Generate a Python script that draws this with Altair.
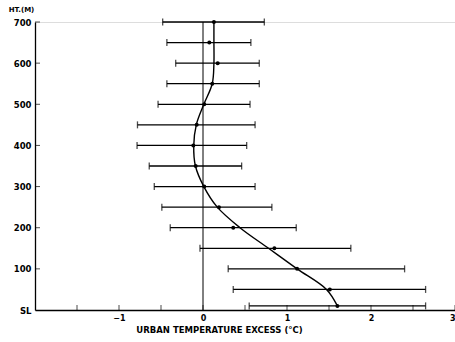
import altair as alt
import pandas as pd

# Heights (m) of each observation level (SL ~ 10 m)
heights = [700, 650, 600, 550, 500, 450, 400, 350, 300, 250, 200, 150, 100, 50, 10]
# Mean urban temperature excess (deg C)
means = [0.13, 0.075, 0.175, 0.11, 0.015, -0.075, -0.115, -0.087, 0.015, 0.19, 0.36, 0.85, 1.12, 1.51, 1.60]
# Error bar ends
lows = [-0.48, -0.43, -0.325, -0.43, -0.535, -0.78, -0.785, -0.64, -0.58, -0.49, -0.39, -0.036, 0.30, 0.36, 0.55]
highs = [0.73, 0.57, 0.67, 0.67, 0.56, 0.62, 0.52, 0.46, 0.62, 0.82, 1.11, 1.76, 2.40, 2.65, 2.65]
# Smooth fitted profile
curve = [0.13, 0.13, 0.13, 0.11, 0.01, -0.08, -0.11, -0.09, 0.01, 0.17, 0.44, 0.78, 1.12, 1.47, 1.60]

x_ticks = [-1.5, -1, -0.5, 0, 0.5, 1, 1.5, 2, 2.5, 3]
x_labels = [-1, 0, 1, 2, 3]
y_ticks = [100, 200, 300, 400, 500, 600, 700]

df = pd.DataFrame(dict(h=heights, m=means, lo=lows, hi=highs, c=curve))
xt = pd.DataFrame(dict(x=x_ticks))
yt = pd.DataFrame(dict(y=y_ticks))
zero = pd.DataFrame(dict(x=[0], y=[0], y2=[700]))

FONT = "DejaVu Sans"
xs = alt.Scale(domain=[-2, 3], nice=False, zero=False)
ys = alt.Scale(domain=[0, 700], nice=False, zero=False)

xaxis = alt.Axis(
    values=x_labels, format="d", tickSize=0, grid=False, labelFont=FONT, labelFontWeight="bold",
    labelFontSize=8, labelPadding=4, labelColor="black",
    title="URBAN TEMPERATURE EXCESS (°C)", titleFont=FONT, titleFontWeight="bold",
    titleFontSize=8.5, titleColor="black", titleX=184, titleY=19, titleAlign="center",
    titleBaseline="middle", domainColor="black", domainWidth=1.3,
)
yaxis = alt.Axis(
    values=[0] + y_ticks, tickSize=0, grid=False, labelFont=FONT, labelFontWeight="bold",
    labelFontSize=8.5, labelPadding=4, labelColor="black",
    labelExpr="datum.value == 0 ? 'SL' : datum.label",
    title="HT.(M)", titleAngle=0, titleFont=FONT, titleFontWeight="bold", titleFontSize=7,
    titleColor="black", titleX=-14, titleY=-13, titleAlign="center", titleBaseline="middle",
    domainColor="black", domainWidth=1.3,
)

zero_rule = alt.Chart(zero).mark_rule(color="black", strokeWidth=1).encode(
    x=alt.X("x:Q", scale=xs, axis=xaxis),
    y=alt.Y("y:Q", scale=ys, axis=yaxis),
    y2="y2:Q",
)

bars = alt.Chart(df).mark_rule(color="black", strokeWidth=1.3).encode(
    x=alt.X("lo:Q", scale=xs), x2="hi:Q", y=alt.Y("h:Q", scale=ys)
)
cap_lo = alt.Chart(df).mark_tick(color="black", orient="vertical", size=7, thickness=1.3).encode(
    x=alt.X("lo:Q", scale=xs), y=alt.Y("h:Q", scale=ys)
)
cap_hi = alt.Chart(df).mark_tick(color="black", orient="vertical", size=7, thickness=1.3).encode(
    x=alt.X("hi:Q", scale=xs), y=alt.Y("h:Q", scale=ys)
)
line = alt.Chart(df).mark_line(color="black", strokeWidth=1.4, interpolate="catmull-rom").encode(
    x=alt.X("c:Q", scale=xs), y=alt.Y("h:Q", scale=ys), order=alt.Order("h:Q")
)
pts = alt.Chart(df).mark_circle(color="black", size=16, opacity=1).encode(
    x=alt.X("m:Q", scale=xs), y=alt.Y("h:Q", scale=ys)
)
xtick_marks = alt.Chart(xt).mark_tick(color="black", orient="vertical", size=5, thickness=1, yOffset=-2.5).encode(
    x=alt.X("x:Q", scale=xs), y=alt.datum(0, scale=ys)
)
ytick_marks = alt.Chart(yt).mark_tick(color="black", orient="horizontal", size=5, thickness=1, xOffset=2.5).encode(
    y=alt.Y("y:Q", scale=ys), x=alt.datum(-2, scale=xs)
)

chart = alt.layer(zero_rule, bars, cap_lo, cap_hi, line, pts, xtick_marks, ytick_marks).properties(
    width=420, height=288,
    autosize=alt.AutoSizeParams(type="none"),
    padding={"left": 35, "top": 22, "right": 0, "bottom": 32},
).configure_view(stroke=None).configure(background="white")

chart.save("out.html", embed_options={"renderer": "svg", "actions": False})
